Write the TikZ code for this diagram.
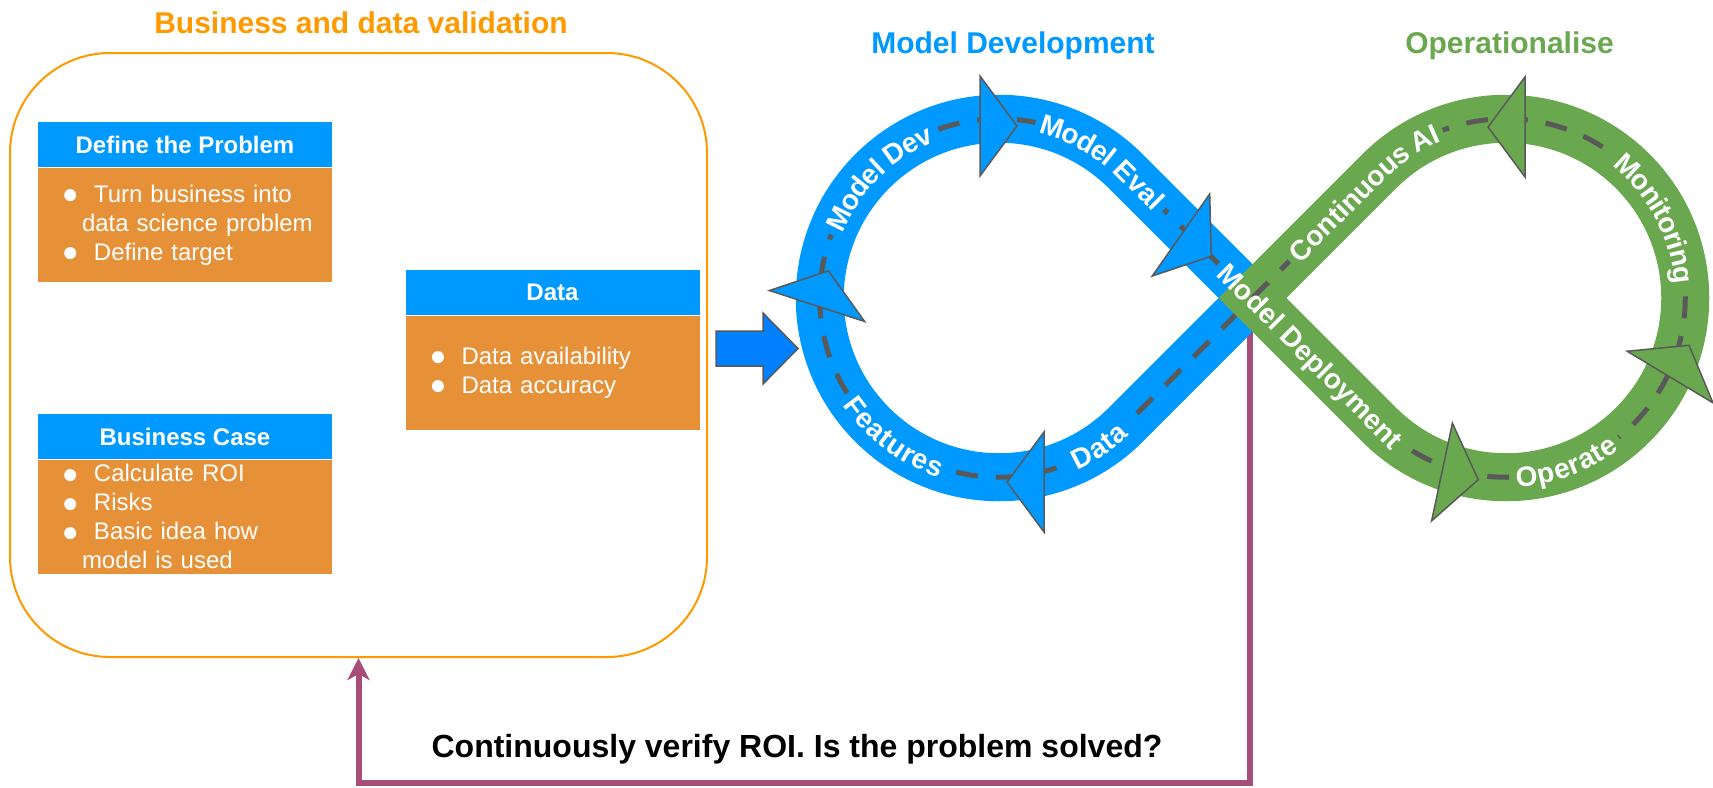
\documentclass[tikz,border=0pt]{standalone}
\usepackage{fontspec}
\setmainfont{Liberation Sans}
\usepackage{tikz}
\usetikzlibrary{positioning}
\usetikzlibrary{arrows.meta}
\usetikzlibrary{calc,decorations.text}
\definecolor{devblue}{HTML}{0099FF}
\definecolor{arrowblue}{HTML}{0080FF}
\definecolor{opgreen}{HTML}{6AA84F}
\definecolor{boxorange}{HTML}{E69138}
\definecolor{valorange}{HTML}{FF9900}
\definecolor{dashgray}{HTML}{595959}
\definecolor{roipurple}{HTML}{A64D79}
\newcommand\titlefont{\fontsize{15}{18}\selectfont\bfseries}
\newcommand\lblfont{\fontsize{14}{16}\selectfont\bfseries}
\newcommand\bul{\hspace*{12pt}\makebox[16pt][l]{\fontsize{14}{14}\selectfont\raisebox{-0.6pt}{●}}}
\newcommand\cont{\hspace*{22pt}}
\tikzset{head box/.style={fill=devblue,text=white,font=\fontsize{12}{14}\selectfont\bfseries,minimum width=147pt,minimum height=22.5pt,inner sep=0pt},
  body box/.style={fill=boxorange,text=white,font=\fontsize{12}{14.5}\selectfont,text width=147pt,minimum height=57pt,inner sep=0pt,align=left},
  val frame/.style={draw=valorange,line width=1pt,rounded corners=50pt,minimum width=348.5pt,minimum height=302pt},
  devband/.style={draw=devblue,line width=24pt,line join=miter},
  opband/.style={draw=opgreen,line width=24pt,line join=miter},
  dashline/.style={draw=dashgray,line width=2.5pt,dash pattern=on 11pt off 9pt},
  devcover/.style={draw=devblue,line width=4pt},
  opcover/.style={draw=opgreen,line width=4pt},
  loophead/.style={draw=dashgray,line width=0.75pt,line join=miter},
  looplabel/.style={postaction={decorate,decoration={text along path,text={|\lblfont|#1},text align=center,raise=-5pt,text color=white}}},
}

\begin{document}
\begin{tikzpicture}[x=0.5pt,y=0.5pt,
    feedback/.style={draw=roipurple,line width=3pt,-{Stealth[length=11pt,width=11pt,inset=3pt]}},
    block arrow/.style={fill=arrowblue,draw=dashgray,line width=0.75pt,line join=miter}]
    \useasboundingbox (0,0) rectangle (1713,-787);

    % business and data validation
    \node[val frame] (frame) at (358.5,-355) {};
    \node[anchor=base,text=valorange,font=\titlefont] (valtitle) at (361,-33) {Business and data validation};
    \node[head box] (probhead) at (185,-144.5) {Define the Problem};
    \node[body box,below=0pt of probhead] (probbody) {\bul Turn business into\\\cont data science problem\\\bul Define target};
    \node[head box] (casehead) at (185,-436.5) {Business Case};
    \node[body box,below=0pt of casehead] (casebody) {\bul Calculate ROI\\\bul Risks\\\bul Basic idea how\\\cont model is used};
    \node[head box] (datahead) at (552.5,-292.5) {Data};
    \node[body box,below=0pt of datahead] (databody) {\bul Data availability\\\bul Data accuracy};

    \coordinate (arrowtail) at (716,-348.5);
    \draw[block arrow] (arrowtail) ++(0,17.5) -- ++(47,0) -- ++(0,18) -- ++(35,-35.5) -- ++(-35,-35.5) -- ++(0,18) -- ++(-47,0) -- cycle;

    % feedback loop
    \node[anchor=base,font=\fontsize{16}{19}\selectfont\bfseries] (roitext) at (797,-757) {Continuously verify ROI. Is the problem solved?};
    \coordinate (deploy) at (1250,-326);
    \coordinate (fbcorner) at (1250,-783);
    \draw[feedback] (deploy) -- (fbcorner) -| (frame.south);

    % infinity loop
    \node[anchor=base,text=devblue,font=\titlefont] (devtitle) at (1013,-53) {Model Development};
    \node[anchor=base,text=opgreen,font=\titlefont] (optitle) at (1509.5,-53) {Operationalise};
    \coordinate (X) at (1252.5,-298);
    \coordinate (B) at (999,-298);
    \coordinate (G) at (1506,-298);
    \def\rad{179.25}

    \draw[devband] (X) -- ($(B)+(45:\rad)$) arc[start angle=45,end angle=315,radius=\rad] -- cycle;
    \draw[dashline] (X) -- ($(B)+(45:\rad)$) arc[start angle=45,end angle=315,radius=\rad] -- cycle;
    \draw[loophead,fill=devblue,shift={(980,-126)},rotate=0] (0,50) -- (37,0) -- (0,-50) -- cycle;
    \draw[loophead,fill=devblue,shift={(1181,-235)},rotate=-35] (0,50) -- (37,0) -- (0,-50) -- cycle;
    \draw[loophead,fill=devblue,shift={(817,-306)},rotate=72] (0,50) -- (37,0) -- (0,-50) -- cycle;
    \draw[loophead,fill=devblue,shift={(1044,-482)},rotate=180] (0,50) -- (37,0) -- (0,-50) -- cycle;
    \draw[devcover,looplabel={Model Dev}] ($(B)+(159.3:\rad)$) arc[start angle=159.3,end angle=110.7,radius=\rad];
    \draw[devcover,looplabel={Features}] ($(B)+(212.4:\rad)$) arc[start angle=212.4,end angle=253.6,radius=\rad];
    \draw[devcover,looplabel={Data}] ($(B)+(292.3:\rad)$) arc[start angle=292.3,end angle=315.7,radius=\rad];
    \draw[devcover,looplabel={Model Eval}] ($(B)+(78.25:\rad)$) arc[start angle=78.25,end angle=45,radius=\rad] -- ++(-45:54);
    \draw[devcover] ($(X)+(135:48.1)$) -- (X);

    \draw[opband] (X) -- ($(G)+(135:\rad)$) arc[start angle=135,end angle=-135,radius=\rad] -- cycle;
    \draw[dashline] (X) -- ($(G)+(135:\rad)$) arc[start angle=135,end angle=-135,radius=\rad] -- cycle;
    \draw[loophead,fill=opgreen,shift={(1442,-472)},rotate=-12] (0,50) -- (37,0) -- (0,-50) -- cycle;
    \draw[loophead,fill=opgreen,shift={(1670,-377)},rotate=59] (0,50) -- (37,0) -- (0,-50) -- cycle;
    \draw[loophead,fill=opgreen,shift={(1525,-127)},rotate=180] (0,50) -- (37,0) -- (0,-50) -- cycle;
    \draw[opcover] ($(X)+(-45:8)$) -- ($(X)+(-45:212.9)$);
    \path[looplabel={Model Deployment}] ($(X)+(135:48.1)$) -- ($(X)+(-45:212.9)$);
    \draw[opcover,looplabel={Continuous AI}] ($(X)+(45:52.2)$) -- ($(G)+(135:\rad)$) arc[start angle=135,end angle=110.7,radius=\rad];
    \draw[opcover,looplabel={Monitoring}] ($(G)+(53:\rad)$) arc[start angle=53,end angle=2.8,radius=\rad];
    \draw[opcover,looplabel={Operate}] ($(G)+(271.1:\rad)$) arc[start angle=271.1,end angle=308.9,radius=\rad];
\end{tikzpicture}
\end{document}
